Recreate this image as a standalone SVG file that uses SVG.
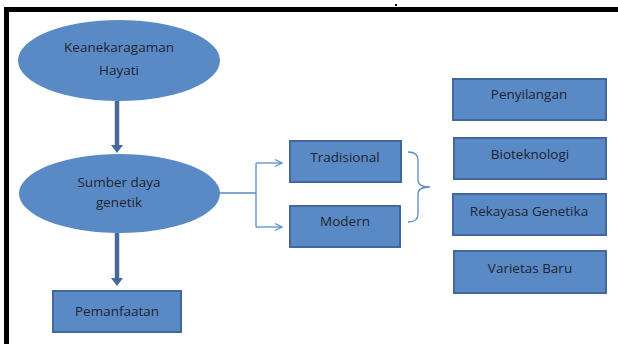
<svg xmlns="http://www.w3.org/2000/svg" width="618" height="344" viewBox="0 0 618 344">
<defs>
<style>
.ell{fill:#5a8ac6;}
.box{fill:#5a8ac6;stroke:#41689a;stroke-width:2;}
.t{font-family:"Open Sans","Liberation Sans",sans-serif;font-size:13.5px;fill:#1e2430;text-anchor:middle;}
.thick{stroke:#44699a;stroke-width:4.5;fill:none;}
.thin{stroke:#5b8bc6;stroke-width:1.3;fill:none;}
</style>
<marker id="bighead" markerWidth="4" markerHeight="4" refX="2" refY="2" orient="auto" markerUnits="userSpaceOnUse" viewBox="0 0 4 4" overflow="visible">
<path d="M-1,-4 L5,2 L-1,8 Z" fill="#44699a" transform="translate(0,0)"/>
</marker>
<marker id="openhead" markerWidth="10" markerHeight="10" refX="9" refY="5" orient="auto" markerUnits="userSpaceOnUse" viewBox="0 0 10 10">
<path d="M2,1.5 L9,5 L2,8.5" fill="none" stroke="#5b8bc6" stroke-width="1.3"/>
</marker>
</defs>
<rect width="618" height="344" fill="#ffffff"/>
<g id="frame">
<rect x="4" y="7" width="614" height="5" fill="#000"/>
<rect x="4" y="7" width="5" height="337" fill="#000"/>
<rect x="395" y="4" width="2" height="2" fill="#000"/>
</g>
<g id="connectors">
<line class="thick" x1="117" y1="101" x2="117" y2="146"/>
<path d="M111,145 L123,145 L117,153 Z" fill="#44699a"/>
<line class="thick" x1="117" y1="233" x2="117" y2="279"/>
<path d="M111,278 L123,278 L117,286 Z" fill="#44699a"/>
<path class="thin" d="M220,193 H256 M256,163 V227"/>
<line class="thin" x1="256" y1="163" x2="282" y2="163" marker-end="url(#openhead)"/>
<line class="thin" x1="256" y1="227" x2="282" y2="227" marker-end="url(#openhead)"/>
<path class="thin" d="M408,152 Q418,152 418,160 V180 Q418,187 430,187 Q418,187 418,194 V214 Q418,222 408,222"/>
</g>
<g id="keanekaragaman">
<ellipse class="ell" cx="119" cy="60.5" rx="101" ry="40.5"/>
<text class="t" x="119" y="52">Keanekaragaman</text>
<text class="t" x="119" y="75">Hayati</text>
</g>
<g id="sumber">
<ellipse class="ell" cx="119.5" cy="193.5" rx="100.5" ry="39.5"/>
<text class="t" x="119" y="187">Sumber daya</text>
<text class="t" x="119" y="207">genetik</text>
</g>
<g id="pemanfaatan">
<rect class="box" x="53" y="291" width="128" height="41"/>
<text class="t" x="117" y="316">Pemanfaatan</text>
</g>
<g id="tradisional">
<rect class="box" x="290" y="141" width="111" height="41"/>
<text class="t" x="345" y="162">Tradisional</text>
</g>
<g id="modern">
<rect class="box" x="290" y="206" width="110" height="41"/>
<text class="t" x="345" y="226">Modern</text>
</g>
<g id="penyilangan">
<rect class="box" x="453" y="79" width="153" height="41"/>
<text class="t" x="529" y="99">Penyilangan</text>
</g>
<g id="bioteknologi">
<rect class="box" x="454" y="138" width="152" height="41"/>
<text class="t" x="530" y="159">Bioteknologi</text>
</g>
<g id="rekayasa">
<rect class="box" x="453" y="194" width="153" height="41"/>
<text class="t" x="529" y="216">Rekayasa Genetika</text>
</g>
<g id="varietas">
<rect class="box" x="454" y="251" width="152" height="42"/>
<text class="t" x="530" y="273">Varietas Baru</text>
</g>
</svg>
